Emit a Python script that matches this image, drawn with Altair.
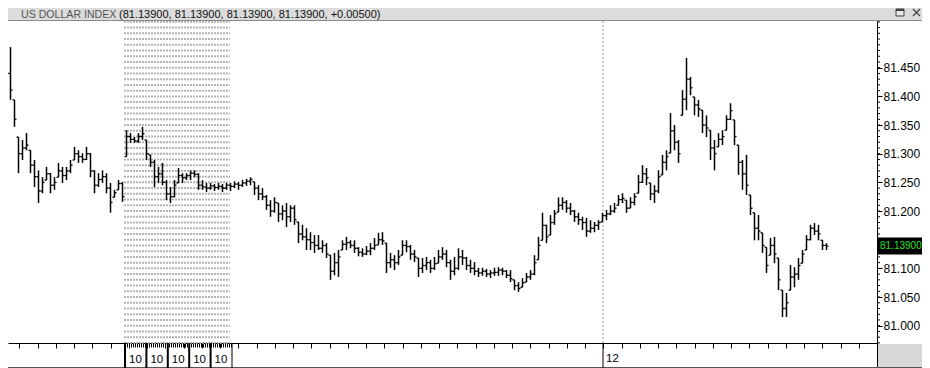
import altair as alt
import pandas as pd

# ---------------- data ----------------
# OHLC bars of the US Dollar Index, prices in thousandths above 81.000
# (e.g. 245 -> 81.245). One entry per bar, left to right.
hi = [294, 463, 486, 394, 329, 324, 336, 306, 289, 271,
      259, 277, 266, 259, 284, 277, 277, 289, 312, 306,
      301, 312, 301, 271, 266, 271, 266, 249, 237, 254,
      251, 341, 336, 329, 336, 347, 324, 298, 289, 277,
      284, 254, 242, 254, 275, 266, 266, 271, 271, 266,
      254, 249, 249, 247, 249, 247, 249, 249, 252, 251,
      254, 256, 259, 251, 245, 240, 228, 219, 224, 214,
      210, 214, 210, 210, 181, 176, 170, 163, 158, 158,
      149, 144, 123, 127, 132, 149, 155, 149, 149, 137,
      135, 139, 144, 153, 162, 163, 144, 127, 123, 132,
      149, 149, 141, 132, 118, 118, 120, 115, 120, 132,
      137, 132, 115, 120, 135, 132, 120, 115, 111, 101,
      101, 99, 97, 101, 102, 101, 97, 97, 80, 76,
      83, 92, 97, 123, 155, 197, 176, 193, 202, 224,
      224, 219, 214, 202, 197, 190, 188, 184, 181, 184,
      197, 202, 210, 214, 228, 231, 219, 224, 231, 263,
      280, 275, 249, 245, 271, 298, 306, 371, 350, 324,
      411, 467, 434, 399, 394, 376, 367, 341, 324, 336,
      341, 367, 388, 359, 315, 289, 298, 228, 197, 193,
      162, 137, 153, 155, 118, 62, 57, 106, 102, 118,
      132, 158, 176, 179, 176, 149, 144]
lo = [224, 350, 394, 347, 266, 289, 306, 266, 242, 214,
      231, 254, 231, 237, 259, 249, 254, 266, 289, 284,
      284, 289, 259, 231, 242, 249, 231, 197, 224, 237,
      216, 295, 319, 319, 319, 324, 289, 277, 242, 249,
      245, 219, 214, 224, 249, 249, 254, 254, 259, 237,
      237, 233, 237, 235, 237, 233, 237, 235, 240, 237,
      242, 244, 245, 228, 219, 219, 202, 190, 197, 181,
      184, 172, 181, 176, 144, 149, 132, 132, 127, 132,
      127, 118, 80, 88, 85, 132, 132, 135, 127, 121,
      120, 123, 123, 132, 141, 141, 92, 101, 97, 106,
      123, 128, 115, 111, 85, 92, 97, 92, 97, 109,
      115, 102, 80, 88, 97, 106, 97, 92, 88, 85,
      87, 85, 83, 87, 87, 88, 83, 76, 62, 59,
      67, 76, 80, 88, 115, 149, 144, 158, 176, 198,
      202, 197, 193, 181, 176, 167, 155, 162, 163, 167,
      181, 184, 193, 197, 210, 214, 197, 205, 210, 231,
      249, 245, 219, 214, 231, 263, 271, 301, 306, 284,
      367, 376, 402, 367, 364, 336, 329, 289, 271, 312,
      315, 341, 359, 315, 263, 237, 228, 193, 149, 149,
      127, 92, 123, 109, 62, 15, 15, 62, 67, 80,
      109, 132, 149, 158, 149, 132, 132]
cl = [280, 440, 411, 360, 300, 310, 315, 280, 260, 235,
      250, 265, 245, 250, 270, 262, 270, 280, 300, 295,
      290, 300, 270, 245, 255, 260, 240, 215, 232, 248,
      225, 330, 325, 322, 330, 335, 300, 285, 260, 265,
      250, 230, 225, 245, 262, 258, 262, 266, 264, 245,
      242, 240, 244, 241, 243, 240, 245, 243, 247, 245,
      249, 252, 255, 240, 230, 225, 210, 200, 215, 195,
      200, 190, 205, 185, 160, 155, 150, 145, 140, 135,
      140, 125, 95, 110, 120, 142, 145, 140, 135, 128,
      125, 130, 135, 140, 150, 148, 110, 115, 110, 120,
      140, 138, 125, 120, 100, 105, 110, 100, 108, 120,
      125, 110, 95, 100, 120, 118, 105, 100, 95, 92,
      95, 90, 92, 93, 97, 95, 88, 82, 70, 65,
      75, 85, 90, 110, 140, 175, 155, 180, 195, 210,
      215, 205, 200, 190, 185, 180, 165, 170, 175, 180,
      192, 195, 200, 205, 220, 222, 205, 215, 225, 250,
      265, 258, 230, 235, 260, 285, 295, 340, 320, 300,
      395, 430, 415, 385, 378, 350, 345, 310, 300, 325,
      330, 360, 375, 330, 285, 265, 245, 205, 170, 165,
      140, 105, 140, 125, 80, 30, 40, 85, 90, 105,
      125, 150, 170, 165, 160, 140, 139]

last_price = 81.139
last_label = "81.13900"
title_name = "US DOLLAR INDEX"
title_vals = "(81.13900, 81.13900, 81.13900, 81.13900, +0.00500)"

y_major = [81.000, 81.050, 81.100, 81.200, 81.250, 81.300, 81.350, 81.400, 81.450]
y_minor = [round(80.97 + 0.01 * k, 2) for k in range(57)]

# session band and its "10" boxes, in bar-index units
session = (30.375, 56.875)
box_edges = [30.625, 35.975, 41.325, 46.675, 52.025]
box_end = 57.375
box_labels = ["10", "10", "10", "10", "10"]
day_break = 150.125
day_label = "12"
x_ticks = [150.2 + 4.5625 * k for k in range(-32, 15)]

# ---------------- frames ----------------
n = len(hi)
op = []
for i in range(n):
    prev = cl[i - 1] if i > 0 else lo[i]
    op.append(min(max(prev, lo[i]), hi[i]))
bars = pd.DataFrame({
    "t": list(range(n)),
    "hi": [81 + v / 1000 for v in hi],
    "lo": [81 + v / 1000 for v in lo],
    "op": [81 + v / 1000 for v in op],
    "cl": [81 + v / 1000 for v in cl],
})
grid_df = pd.DataFrame({"v": y_minor})
one = pd.DataFrame({"a": [0]})
last_df = pd.DataFrame({"v": [last_price], "lab": [last_label]})
box_df = pd.DataFrame({"t": box_edges, "lab": box_labels})
day_df = pd.DataFrame({"t": [day_break], "lab": [day_label]})

W, H = 869, 322
RP = 45            # right padding -> total width 914 (fits the 930px page with its 8px margins)
TW = W + RP
xs = alt.Scale(domain=[1.375, 218.625], nice=False, zero=False)
ys = alt.Scale(domain=[80.9698, 81.5315], nice=False, zero=False)

FONT = "Liberation Sans"

x_axis = alt.Axis(values=x_ticks, labels=False, ticks=True, tickSize=5, tickColor="black",
                  tickWidth=1, domainColor="black", domainWidth=1, grid=False, title=None,
                  orient="bottom")
y_axis = alt.Axis(values=y_major, format=".3f", orient="right", labelFont=FONT,
                  labelFontSize=12, labelColor="black", tickSize=5, tickColor="black",
                  domainColor="black", labelPadding=1, grid=False, title=None,
                  labelOverlap=False, labelFlush=False)


def X(field):
    return alt.X(field, scale=xs, axis=x_axis)


def Y(field):
    return alt.Y(field, scale=ys, axis=y_axis)


def XD(v):
    return alt.XDatum(v, scale=xs, axis=x_axis)


layers = []

# dotted session band
layers.append(alt.Chart(grid_df).mark_rule(strokeDash=[2, 1], strokeWidth=2, color="#b4b4b4").encode(
    x=XD(session[0]), x2=alt.X2Datum(session[1]), y=Y("v:Q")))

# dashed day separator
layers.append(alt.Chart(day_df).mark_rule(strokeDash=[2, 2], color="#a0a0a0").encode(
    x=X("t:Q"), y=alt.value(0), y2=alt.value(H)))

# OHLC bars
layers.append(alt.Chart(bars).mark_rule(color="black", strokeWidth=1.5, clip=True).encode(
    x=X("t:Q"), y=Y("lo:Q"), y2="hi:Q"))
layers.append(alt.Chart(bars).mark_rule(color="black", strokeWidth=1.3, clip=True,
                                        xOffset=-2, x2Offset=0).encode(
    x=X("t:Q"), x2="t:Q", y=Y("op:Q")))
layers.append(alt.Chart(bars).mark_rule(color="black", strokeWidth=1.3, clip=True,
                                        xOffset=0, x2Offset=2).encode(
    x=X("t:Q"), x2="t:Q", y=Y("cl:Q")))

# minor y ticks
layers.append(alt.Chart(grid_df).mark_rule(color="black").encode(
    x=alt.value(W), x2=alt.value(W + 3), y=Y("v:Q")))

# last price marker
layers.append(alt.Chart(last_df).mark_rect(color="black", yOffset=-8.5, y2Offset=8.5).encode(
    x=alt.value(W + 1), x2=alt.value(TW), y=Y("v:Q"), y2="v:Q"))
layers.append(alt.Chart(last_df).mark_text(align="left", baseline="middle", color="#22e022",
                                           font=FONT, fontSize=10).encode(
    x=alt.value(W + 3), y=Y("v:Q"), text="lab:N"))

# title bar
layers.append(alt.Chart(one).mark_rect(color="#dcdcdc").encode(
    x=alt.value(0), x2=alt.value(TW), y=alt.value(-13), y2=alt.value(-1)))
layers.append(alt.Chart(one).mark_rule(color="#8a8a8a").encode(
    x=alt.value(0), x2=alt.value(TW), y=alt.value(-0.5)))
layers.append(alt.Chart(one).mark_text(text=title_name, align="left", baseline="alphabetic",
                                       font=FONT, fontSize=10.6, color="#555555").encode(
    x=alt.value(13), y=alt.value(-3.5)))
layers.append(alt.Chart(one).mark_text(text=title_vals, align="left", baseline="alphabetic",
                                       font=FONT, fontSize=11, color="#111111").encode(
    x=alt.value(111), y=alt.value(-3.5)))
layers.append(alt.Chart(one).mark_rect(fill="#e8e8e8", stroke="#404040", strokeWidth=1).encode(
    x=alt.value(888), x2=alt.value(896), y=alt.value(-12), y2=alt.value(-5)))
layers.append(alt.Chart(one).mark_rule(color="#404040", strokeWidth=2).encode(
    x=alt.value(888), x2=alt.value(896), y=alt.value(-11)))
layers.append(alt.Chart(one).mark_rule(color="#404040", strokeWidth=1.3).encode(
    x=alt.value(905), x2=alt.value(912), y=alt.value(-12), y2=alt.value(-5)))
layers.append(alt.Chart(one).mark_rule(color="#404040", strokeWidth=1.3).encode(
    x=alt.value(905), x2=alt.value(912), y=alt.value(-5), y2=alt.value(-12)))

# bottom strip
layers.append(alt.Chart(one).mark_rect(color="#d8d8d8").encode(
    x=alt.value(W + 1), x2=alt.value(TW), y=alt.value(H + 1), y2=alt.value(H + 25)))
layers.append(alt.Chart(one).mark_rule(color="black").encode(
    x=alt.value(W + 0.5), y=alt.value(H), y2=alt.value(H + 25)))
layers.append(alt.Chart(one).mark_rule(color="#555555").encode(
    x=alt.value(0), x2=alt.value(TW), y=alt.value(H + 24.5)))
layers.append(alt.Chart(box_df).mark_rule(color="black", strokeWidth=2).encode(
    x=X("t:Q"), y=alt.value(H), y2=alt.value(H + 25)))
layers.append(alt.Chart(one).mark_rule(color="black", strokeWidth=1).encode(
    x=XD(box_end), y=alt.value(H), y2=alt.value(H + 25)))
layers.append(alt.Chart(one).mark_rule(color="black", strokeWidth=4, strokeDash=[1, 1]).encode(
    x=XD(box_edges[0]), x2=alt.X2Datum(box_end), y=alt.value(H + 2.5)))
layers.append(alt.Chart(box_df).mark_text(align="left", baseline="middle", dx=4, font=FONT,
                                          fontSize=11.5, color="black").encode(
    x=X("t:Q"), y=alt.value(H + 17), text="lab:N"))
layers.append(alt.Chart(day_df).mark_rule(color="black").encode(
    x=X("t:Q"), y=alt.value(H), y2=alt.value(H + 25)))
layers.append(alt.Chart(day_df).mark_text(align="left", baseline="middle", dx=3, font=FONT,
                                          fontSize=11.5, color="black").encode(
    x=X("t:Q"), y=alt.value(H + 16), text="lab:N"))

chart = alt.layer(*layers).properties(
    width=W, height=H,
    padding={"left": 0, "top": 13, "right": RP, "bottom": 25},
    autosize=alt.AutoSizeParams(type="none"),
    background="white",
).configure_view(stroke=None)

chart.save("out.html", embed_options={"renderer": "svg", "actions": False})
